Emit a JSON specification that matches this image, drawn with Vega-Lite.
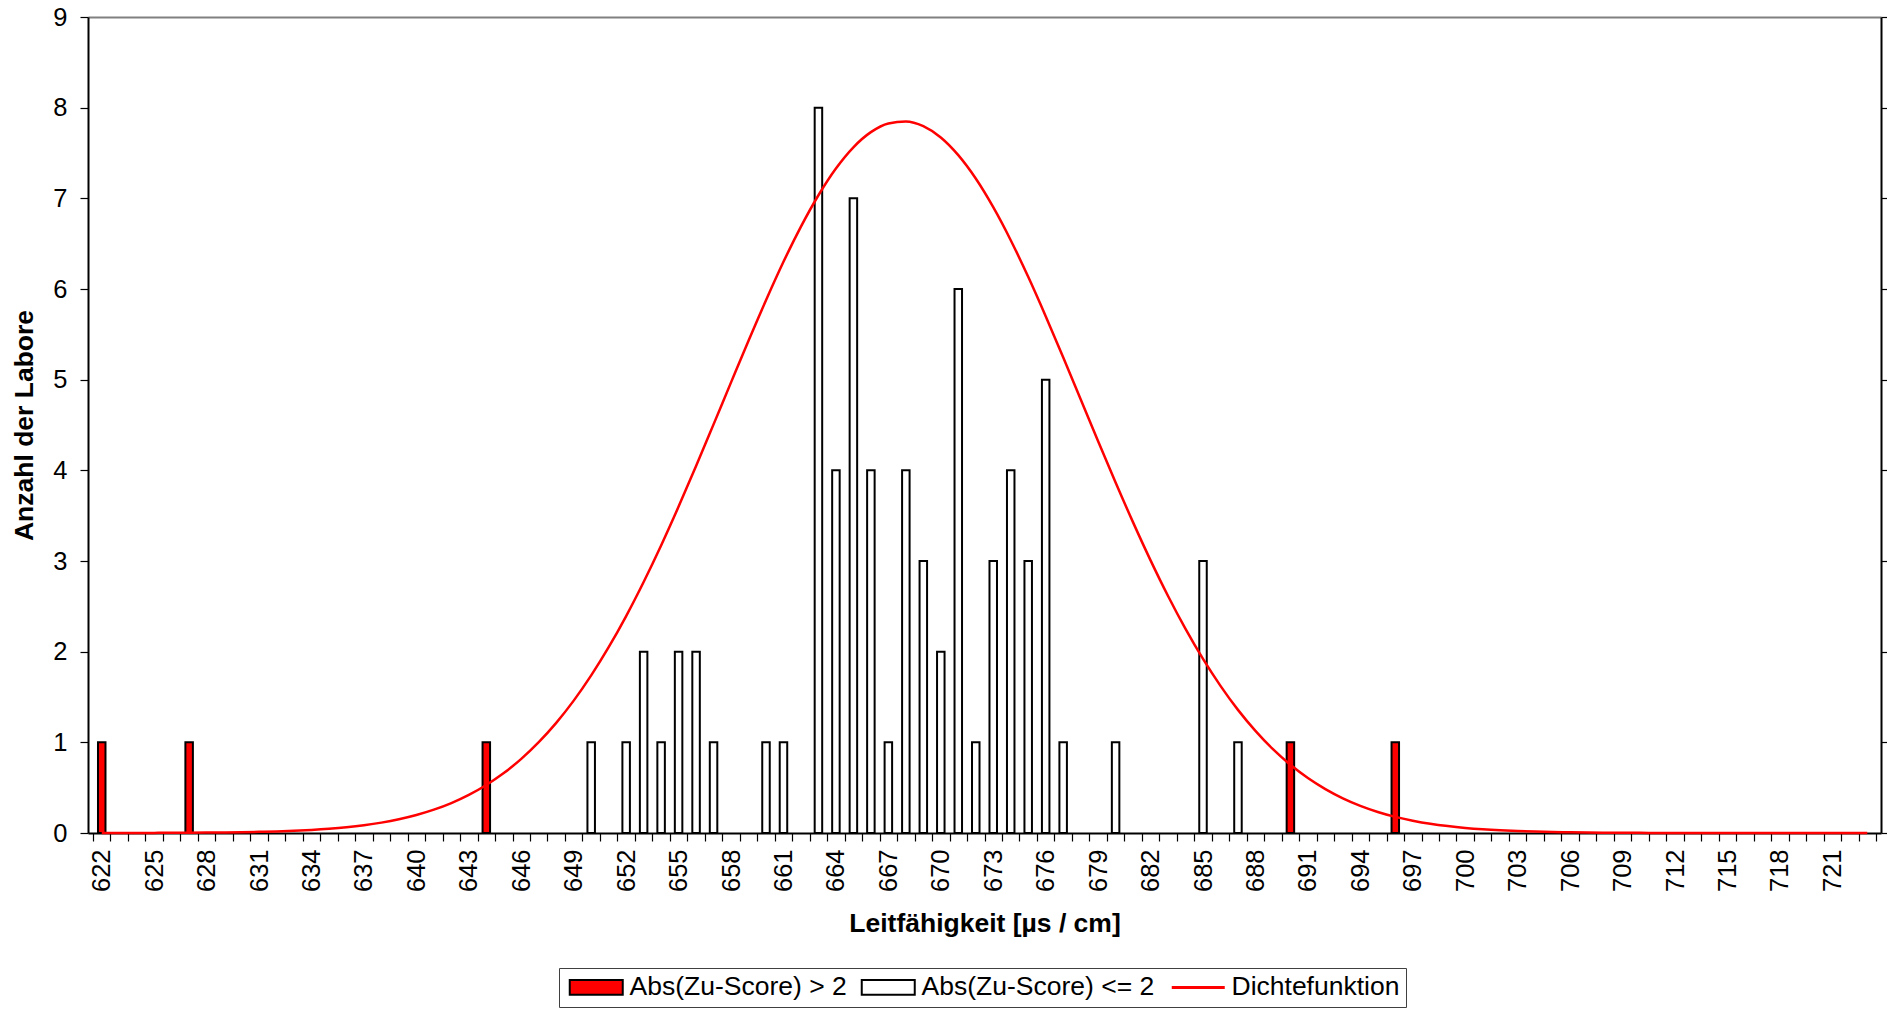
{
  "$schema": "https://vega.github.io/schema/vega-lite/v6.json",
  "width": 1793,
  "height": 816,
  "autosize": {"type": "none"},
  "padding": {"left": 88, "top": 17, "right": 6, "bottom": 176},
  "background": "white",
  "config": {
    "view": {"stroke": null},
    "font": "Liberation Sans",
    "axis": {"grid": false, "labelColor": "#000", "titleColor": "#000", "domainColor": "#000", "tickColor": "#000", "labelFont": "Liberation Sans", "titleFont": "Liberation Sans"}
  },
  "datasets": {
    "bars": [
      {"x": 622, "n": 1, "series": "Abs(Zu-Score) > 2"},
      {"x": 627, "n": 1, "series": "Abs(Zu-Score) > 2"},
      {"x": 644, "n": 1, "series": "Abs(Zu-Score) > 2"},
      {"x": 690, "n": 1, "series": "Abs(Zu-Score) > 2"},
      {"x": 696, "n": 1, "series": "Abs(Zu-Score) > 2"},
      {"x": 650, "n": 1, "series": "Abs(Zu-Score) <= 2"},
      {"x": 652, "n": 1, "series": "Abs(Zu-Score) <= 2"},
      {"x": 653, "n": 2, "series": "Abs(Zu-Score) <= 2"},
      {"x": 654, "n": 1, "series": "Abs(Zu-Score) <= 2"},
      {"x": 655, "n": 2, "series": "Abs(Zu-Score) <= 2"},
      {"x": 656, "n": 2, "series": "Abs(Zu-Score) <= 2"},
      {"x": 657, "n": 1, "series": "Abs(Zu-Score) <= 2"},
      {"x": 660, "n": 1, "series": "Abs(Zu-Score) <= 2"},
      {"x": 661, "n": 1, "series": "Abs(Zu-Score) <= 2"},
      {"x": 663, "n": 8, "series": "Abs(Zu-Score) <= 2"},
      {"x": 664, "n": 4, "series": "Abs(Zu-Score) <= 2"},
      {"x": 665, "n": 7, "series": "Abs(Zu-Score) <= 2"},
      {"x": 666, "n": 4, "series": "Abs(Zu-Score) <= 2"},
      {"x": 667, "n": 1, "series": "Abs(Zu-Score) <= 2"},
      {"x": 668, "n": 4, "series": "Abs(Zu-Score) <= 2"},
      {"x": 669, "n": 3, "series": "Abs(Zu-Score) <= 2"},
      {"x": 670, "n": 2, "series": "Abs(Zu-Score) <= 2"},
      {"x": 671, "n": 6, "series": "Abs(Zu-Score) <= 2"},
      {"x": 672, "n": 1, "series": "Abs(Zu-Score) <= 2"},
      {"x": 673, "n": 3, "series": "Abs(Zu-Score) <= 2"},
      {"x": 674, "n": 4, "series": "Abs(Zu-Score) <= 2"},
      {"x": 675, "n": 3, "series": "Abs(Zu-Score) <= 2"},
      {"x": 676, "n": 5, "series": "Abs(Zu-Score) <= 2"},
      {"x": 677, "n": 1, "series": "Abs(Zu-Score) <= 2"},
      {"x": 680, "n": 1, "series": "Abs(Zu-Score) <= 2"},
      {"x": 685, "n": 3, "series": "Abs(Zu-Score) <= 2"},
      {"x": 687, "n": 1, "series": "Abs(Zu-Score) <= 2"}
    ],
    "curve": [
      {"x": 622, "d": 0.0004, "series": "Dichtefunktion"},
      {"x": 623, "d": 0.0006, "series": "Dichtefunktion"},
      {"x": 624, "d": 0.0008, "series": "Dichtefunktion"},
      {"x": 625, "d": 0.0013, "series": "Dichtefunktion"},
      {"x": 626, "d": 0.0019, "series": "Dichtefunktion"},
      {"x": 627, "d": 0.0028, "series": "Dichtefunktion"},
      {"x": 628, "d": 0.0042, "series": "Dichtefunktion"},
      {"x": 629, "d": 0.0061, "series": "Dichtefunktion"},
      {"x": 630, "d": 0.0087, "series": "Dichtefunktion"},
      {"x": 631, "d": 0.0125, "series": "Dichtefunktion"},
      {"x": 632, "d": 0.0176, "series": "Dichtefunktion"},
      {"x": 633, "d": 0.0246, "series": "Dichtefunktion"},
      {"x": 634, "d": 0.0342, "series": "Dichtefunktion"},
      {"x": 635, "d": 0.0469, "series": "Dichtefunktion"},
      {"x": 636, "d": 0.0637, "series": "Dichtefunktion"},
      {"x": 637, "d": 0.0859, "series": "Dichtefunktion"},
      {"x": 638, "d": 0.1146, "series": "Dichtefunktion"},
      {"x": 639, "d": 0.1515, "series": "Dichtefunktion"},
      {"x": 640, "d": 0.1983, "series": "Dichtefunktion"},
      {"x": 641, "d": 0.2572, "series": "Dichtefunktion"},
      {"x": 642, "d": 0.3304, "series": "Dichtefunktion"},
      {"x": 643, "d": 0.4205, "series": "Dichtefunktion"},
      {"x": 644, "d": 0.530, "series": "Dichtefunktion"},
      {"x": 645, "d": 0.661, "series": "Dichtefunktion"},
      {"x": 646, "d": 0.818, "series": "Dichtefunktion"},
      {"x": 647, "d": 1.002, "series": "Dichtefunktion"},
      {"x": 648, "d": 1.215, "series": "Dichtefunktion"},
      {"x": 649, "d": 1.460, "series": "Dichtefunktion"},
      {"x": 650, "d": 1.738, "series": "Dichtefunktion"},
      {"x": 651, "d": 2.049, "series": "Dichtefunktion"},
      {"x": 652, "d": 2.393, "series": "Dichtefunktion"},
      {"x": 653, "d": 2.769, "series": "Dichtefunktion"},
      {"x": 654, "d": 3.172, "series": "Dichtefunktion"},
      {"x": 655, "d": 3.600, "series": "Dichtefunktion"},
      {"x": 656, "d": 4.047, "series": "Dichtefunktion"},
      {"x": 657, "d": 4.507, "series": "Dichtefunktion"},
      {"x": 658, "d": 4.970, "series": "Dichtefunktion"},
      {"x": 659, "d": 5.430, "series": "Dichtefunktion"},
      {"x": 660, "d": 5.876, "series": "Dichtefunktion"},
      {"x": 661, "d": 6.300, "series": "Dichtefunktion"},
      {"x": 662, "d": 6.688, "series": "Dichtefunktion"},
      {"x": 663, "d": 7.034, "series": "Dichtefunktion"},
      {"x": 664, "d": 7.329, "series": "Dichtefunktion"},
      {"x": 665, "d": 7.563, "series": "Dichtefunktion"},
      {"x": 666, "d": 7.730, "series": "Dichtefunktion"},
      {"x": 667, "d": 7.826, "series": "Dichtefunktion"},
      {"x": 668, "d": 7.848, "series": "Dichtefunktion"},
      {"x": 669, "d": 7.796, "series": "Dichtefunktion"},
      {"x": 670, "d": 7.671, "series": "Dichtefunktion"},
      {"x": 671, "d": 7.476, "series": "Dichtefunktion"},
      {"x": 672, "d": 7.218, "series": "Dichtefunktion"},
      {"x": 673, "d": 6.902, "series": "Dichtefunktion"},
      {"x": 674, "d": 6.538, "series": "Dichtefunktion"},
      {"x": 675, "d": 6.134, "series": "Dichtefunktion"},
      {"x": 676, "d": 5.700, "series": "Dichtefunktion"},
      {"x": 677, "d": 5.247, "series": "Dichtefunktion"},
      {"x": 678, "d": 4.784, "series": "Dichtefunktion"},
      {"x": 679, "d": 4.321, "series": "Dichtefunktion"},
      {"x": 680, "d": 3.866, "series": "Dichtefunktion"},
      {"x": 681, "d": 3.426, "series": "Dichtefunktion"},
      {"x": 682, "d": 3.007, "series": "Dichtefunktion"},
      {"x": 683, "d": 2.614, "series": "Dichtefunktion"},
      {"x": 684, "d": 2.251, "series": "Dichtefunktion"},
      {"x": 685, "d": 1.920, "series": "Dichtefunktion"},
      {"x": 686, "d": 1.623, "series": "Dichtefunktion"},
      {"x": 687, "d": 1.358, "series": "Dichtefunktion"},
      {"x": 688, "d": 1.126, "series": "Dichtefunktion"},
      {"x": 689, "d": 0.924, "series": "Dichtefunktion"},
      {"x": 690, "d": 0.752, "series": "Dichtefunktion"},
      {"x": 691, "d": 0.606, "series": "Dichtefunktion"},
      {"x": 692, "d": 0.484, "series": "Dichtefunktion"},
      {"x": 693, "d": 0.382, "series": "Dichtefunktion"},
      {"x": 694, "d": 0.299, "series": "Dichtefunktion"},
      {"x": 695, "d": 0.232, "series": "Dichtefunktion"},
      {"x": 696, "d": 0.178, "series": "Dichtefunktion"},
      {"x": 697, "d": 0.136, "series": "Dichtefunktion"},
      {"x": 698, "d": 0.102, "series": "Dichtefunktion"},
      {"x": 699, "d": 0.0763, "series": "Dichtefunktion"},
      {"x": 700, "d": 0.0564, "series": "Dichtefunktion"},
      {"x": 701, "d": 0.0413, "series": "Dichtefunktion"},
      {"x": 702, "d": 0.0300, "series": "Dichtefunktion"},
      {"x": 703, "d": 0.0216, "series": "Dichtefunktion"},
      {"x": 704, "d": 0.0154, "series": "Dichtefunktion"},
      {"x": 705, "d": 0.0108, "series": "Dichtefunktion"},
      {"x": 706, "d": 0.0076, "series": "Dichtefunktion"},
      {"x": 707, "d": 0.0052, "series": "Dichtefunktion"},
      {"x": 708, "d": 0.0036, "series": "Dichtefunktion"},
      {"x": 709, "d": 0.0024, "series": "Dichtefunktion"},
      {"x": 710, "d": 0.0016, "series": "Dichtefunktion"},
      {"x": 711, "d": 0.0011, "series": "Dichtefunktion"},
      {"x": 712, "d": 0.0007, "series": "Dichtefunktion"},
      {"x": 713, "d": 0.0005, "series": "Dichtefunktion"},
      {"x": 714, "d": 0.0003, "series": "Dichtefunktion"},
      {"x": 715, "d": 0.0002, "series": "Dichtefunktion"},
      {"x": 716, "d": 0.0001, "series": "Dichtefunktion"},
      {"x": 717, "d": 0.0001, "series": "Dichtefunktion"},
      {"x": 718, "d": 0.0001, "series": "Dichtefunktion"},
      {"x": 719, "d": 0.0, "series": "Dichtefunktion"},
      {"x": 720, "d": 0.0, "series": "Dichtefunktion"},
      {"x": 721, "d": 0.0, "series": "Dichtefunktion"},
      {"x": 722, "d": 0.0, "series": "Dichtefunktion"},
      {"x": 723, "d": 0.0, "series": "Dichtefunktion"}
    ]
  },
  "layer": [
    {
      "data": {"name": "bars"},
      "mark": {"type": "bar", "width": 7.5, "strokeWidth": 2},
      "encoding": {
        "x": {
          "field": "x", "type": "quantitative",
          "scale": {"domain": [621.5, 723.5], "nice": false, "zero": false},
          "axis": {
            "values": [621.5,622.5,623.5,624.5,625.5,626.5,627.5,628.5,629.5,630.5,631.5,632.5,633.5,634.5,635.5,636.5,637.5,638.5,639.5,640.5,641.5,642.5,643.5,644.5,645.5,646.5,647.5,648.5,649.5,650.5,651.5,652.5,653.5,654.5,655.5,656.5,657.5,658.5,659.5,660.5,661.5,662.5,663.5,664.5,665.5,666.5,667.5,668.5,669.5,670.5,671.5,672.5,673.5,674.5,675.5,676.5,677.5,678.5,679.5,680.5,681.5,682.5,683.5,684.5,685.5,686.5,687.5,688.5,689.5,690.5,691.5,692.5,693.5,694.5,695.5,696.5,697.5,698.5,699.5,700.5,701.5,702.5,703.5,704.5,705.5,706.5,707.5,708.5,709.5,710.5,711.5,712.5,713.5,714.5,715.5,716.5,717.5,718.5,719.5,720.5,721.5,722.5,723.5],
            "labelExpr": "((datum.value + 0.5 - 622) % 3 === 0 && datum.value < 722) ? format(datum.value + 0.5, 'd') : ''",
            "labelAngle": -90,
            "labelOffset": 8.79,
            "labelOverlap": false,
            "labelFlush": false,
            "labelBound": false,
            "labelFontSize": 25.5,
            "labelPadding": 8,
            "tickSize": 8,
            "tickWidth": 1.2,
            "domainWidth": 2,
            "title": "Leitfähigkeit [µs / cm]",
            "titleFontSize": 26.5,
            "titleFontWeight": "bold",
            "titlePadding": 19,
            "encode": {"ticks": {"update": {"y": {"value": -8}}}}
          }
        },
        "y": {
          "field": "n", "type": "quantitative",
          "scale": {"domain": [0, 9], "nice": false},
          "axis": {
            "values": [0,1,2,3,4,5,6,7,8,9],
            "labelFontSize": 25.5,
            "labelPadding": 13,
            "tickSize": 8,
            "tickWidth": 1.2,
            "domainWidth": 2,
            "title": "Anzahl der Labore",
            "titleFontSize": 26.5,
            "titleFontWeight": "bold",
            "titlePadding": 14,
            "encode": {"ticks": {"update": {"x": {"value": 8}}}}
          }
        },
        "fill": {
          "field": "series", "type": "nominal",
          "scale": {"domain": ["Abs(Zu-Score) > 2", "Abs(Zu-Score) <= 2", "Dichtefunktion"], "range": ["#FF0000", "#FFFFFF", "transparent"]},
          "legend": {
            "title": null, "orient": "none", "legendX": 471, "legendY": 951, "direction": "horizontal",
            "symbolType": "M-1,-0.88H5.235V0.88H-1Z", "symbolSize": 289, "symbolStrokeWidth": 2,
            "labelFontSize": 26.5, "labelFont": "Liberation Sans", "labelColor": "#000", "labelLimit": 400,
            "labelOffset": 38, "columnPadding": 10, "padding": 6,
            "strokeColor": "#404040", "fillColor": "#FFFFFF",
            "encode": {"symbols": {"update": {
              "shape": {"signal": "datum.value === 'Dichtefunktion' ? 'M-1,0H5.235' : 'M-1,-0.88H5.235V0.88H-1Z'"},
              "strokeWidth": {"signal": "datum.value === 'Dichtefunktion' ? 3 : 2"}
            }}}
          }
        },
        "stroke": {
          "field": "series", "type": "nominal",
          "scale": {"domain": ["Abs(Zu-Score) > 2", "Abs(Zu-Score) <= 2", "Dichtefunktion"], "range": ["#000000", "#000000", "#FF0000"]},
          "legend": {
            "title": null, "orient": "none", "legendX": 471, "legendY": 951, "direction": "horizontal",
            "symbolType": "M-1,-0.88H5.235V0.88H-1Z", "symbolSize": 289, "symbolStrokeWidth": 2,
            "labelFontSize": 26.5, "labelFont": "Liberation Sans", "labelColor": "#000", "labelLimit": 400,
            "labelOffset": 38, "columnPadding": 10, "padding": 6,
            "strokeColor": "#404040", "fillColor": "#FFFFFF",
            "encode": {"symbols": {"update": {
              "shape": {"signal": "datum.value === 'Dichtefunktion' ? 'M-1,0H5.235' : 'M-1,-0.88H5.235V0.88H-1Z'"},
              "strokeWidth": {"signal": "datum.value === 'Dichtefunktion' ? 3 : 2"}
            }}}
          }
        }
      }
    },
    {
      "data": {"name": "curve"},
      "mark": {"type": "line", "strokeWidth": 2.5, "interpolate": "monotone"},
      "encoding": {
        "x": {
          "field": "x", "type": "quantitative",
          "axis": {"orient": "top", "labels": false, "ticks": false, "domainColor": "#808080", "domainWidth": 2, "title": null}
        },
        "y": {
          "field": "d", "type": "quantitative",
          "axis": {
            "orient": "right", "values": [0,1,2,3,4,5,6,7,8,9], "labels": false, "tickSize": 8, "tickWidth": 1.2,
            "domainWidth": 2, "title": null,
            "encode": {"ticks": {"update": {"x": {"value": -8}}}}
          }
        },
        "stroke": {"field": "series", "type": "nominal"}
      }
    }
  ],
  "resolve": {"axis": {"x": "independent", "y": "independent"}}
}
